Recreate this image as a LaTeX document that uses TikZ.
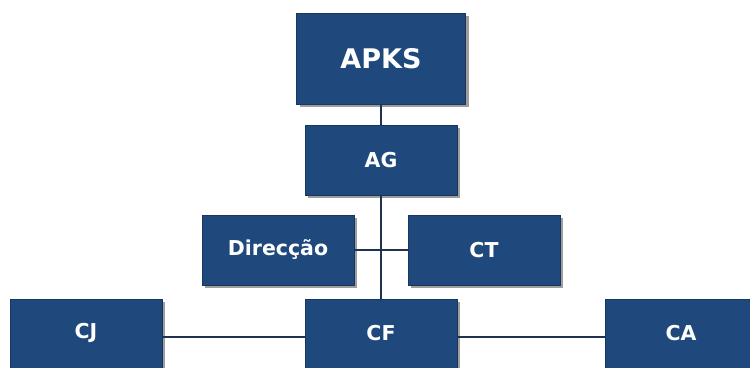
\documentclass[tikz,border=0pt]{standalone}
\usepackage{fontspec}
\setmainfont{DejaVu Sans}
\usetikzlibrary{shadows}
\definecolor{orgblue}{HTML}{1F497D}
\definecolor{orgedge}{HTML}{17375E}
\definecolor{orgline}{HTML}{1F3350}
\tikzstyle{orgbox}=[draw=orgedge,line width=1pt,fill=orgblue,text=white,font=\bfseries\fontsize{20.5}{24}\selectfont,minimum width=152pt,minimum height=70pt,inner sep=0pt,drop shadow={shadow xshift=3pt,shadow yshift=-3pt,fill=black!38,opacity=1}]
\tikzstyle{orglabel}=[text=white,font=\bfseries\fontsize{20.5}{24}\selectfont]
\tikzstyle{orglink}=[draw=orgline,line width=1.3pt]

\begin{document}
\begin{tikzpicture}[x=1pt,y=-1pt]
  \useasboundingbox[fill=white] (0,0) rectangle (750,367);
  % top of the chart
  \node[orgbox,minimum width=169pt,minimum height=91pt,font=\bfseries\fontsize{27}{32}\selectfont] (apks) at (381,58.5) {APKS};
  \node[orgbox] (ag) at (381,160) {AG};
  % middle row
  \node[orgbox] (dir) at (278,250) {Direcção};
  \node[orgbox] (ct) at (484,250) {CT};
  % bottom row
  \node[orgbox,minimum height=76pt] (cj) at (86,337) {};
  \node[orgbox,minimum height=76pt] (cf) at (381,337) {};
  \node[orgbox,minimum height=76pt] (ca) at (681,337) {};
  \node[orglabel] (cjlabel) at (86,333) {CJ};
  \node[orglabel] (cflabel) at (381,333) {CF};
  \node[orglabel] (calabel) at (681,333) {CA};
  % links
  \draw[orglink] (apks.south) -- (ag.north);
  \draw[orglink] (ag.south) -- (cf.north);
  \draw[orglink] (dir.east) -- (ct.west);
  \draw[orglink] (cj.east) -- (cf.west);
  \draw[orglink] (cf.east) -- (ca.west);
\end{tikzpicture}
\end{document}
